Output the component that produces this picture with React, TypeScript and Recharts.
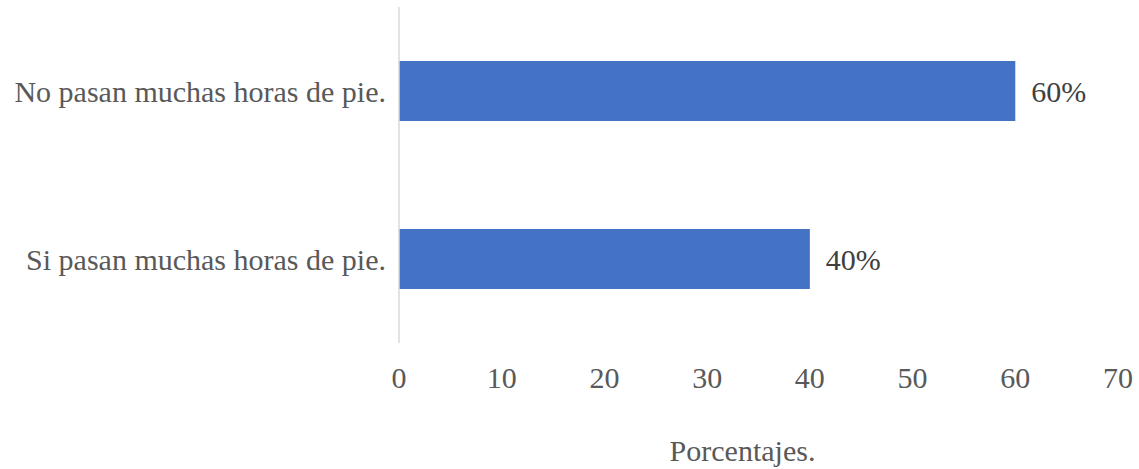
import { BarChart, Bar, XAxis, YAxis, LabelList } from 'recharts';

const categories = ['No pasan muchas horas de pie.', 'Si pasan muchas horas de pie.'];
const percentages = [60, 40];
const xTicks = [0, 10, 20, 30, 40, 50, 60, 70];

const data = categories.map((name, i) => ({ name, value: percentages[i] }));

const FONT = '"Liberation Serif", "Times New Roman", serif';
const SIZE = 30;

export default function App() {
  return (
    <div style={{ position: 'absolute', left: 0, top: 0, background: '#fff' }}>
      <BarChart
        width={1139}
        height={469}
        data={data}
        layout="vertical"
        margin={{ top: 7, right: 21, bottom: 0, left: 0 }}
      >
        <XAxis
          type="number"
          domain={[0, 70]}
          ticks={xTicks}
          axisLine={false}
          tickLine={false}
          height={126}
          tickMargin={18}
          tick={{ fontFamily: FONT, fontSize: SIZE, fill: '#595959' }}
          label={{
            value: 'Porcentajes.',
            position: 'insideBottom',
            offset: 8,
            dx: -16,
            style: { fontFamily: FONT, fontSize: SIZE, fill: '#595959' },
          }}
        />
        <YAxis
          type="category"
          dataKey="name"
          width={399}
          tickLine={false}
          axisLine={{ stroke: '#d9d9d9', strokeWidth: 1.5 }}
          tickMargin={7}
          tick={{ fontFamily: FONT, fontSize: SIZE, fill: '#595959' }}
        />
        <Bar dataKey="value" fill="#4472C4" barSize={60} isAnimationActive={false}>
          <LabelList
            dataKey="value"
            position="right"
            offset={16}
            formatter={(v: number) => `${v}%`}
            style={{ fontFamily: FONT, fontSize: SIZE, fill: '#404040' }}
          />
        </Bar>
      </BarChart>
    </div>
  );
}
